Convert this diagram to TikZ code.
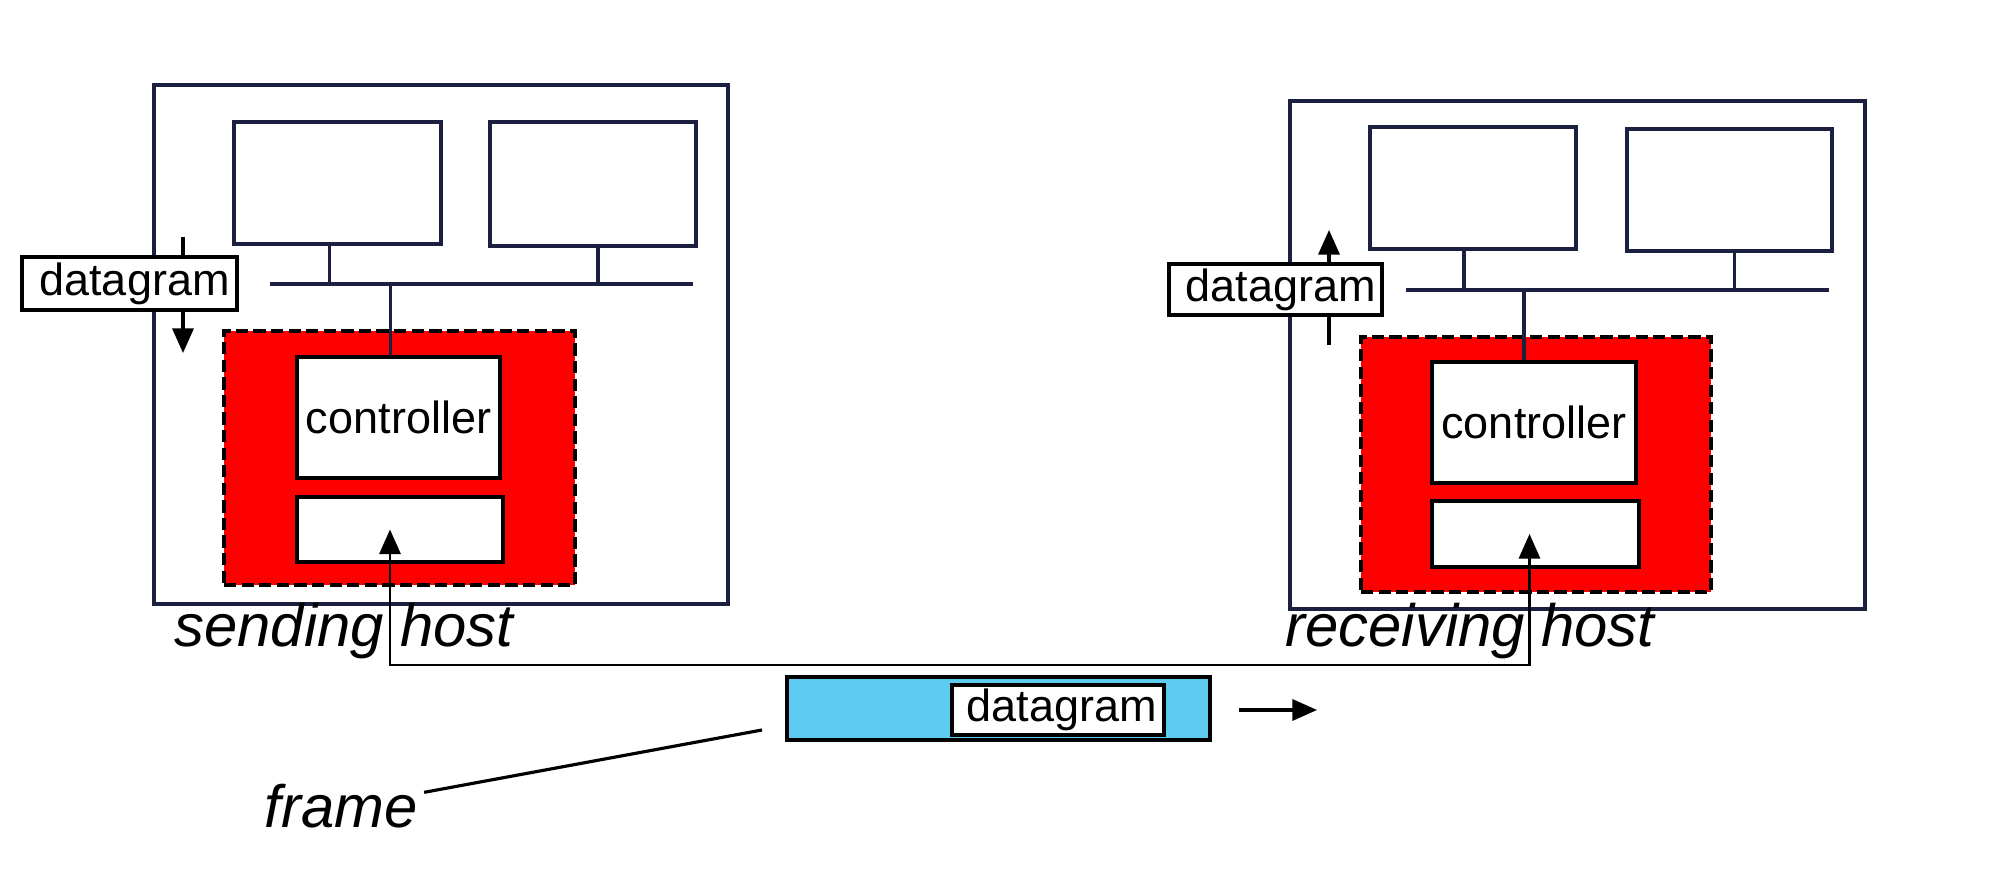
\documentclass[tikz,border=0pt]{standalone}
\usepackage{fontspec}
\setmainfont{Liberation Sans}
\usetikzlibrary{arrows.meta,fit}
\definecolor{hostnavy}{RGB}{28,32,64}
\definecolor{nicred}{RGB}{255,0,0}
\definecolor{frameblue}{RGB}{94,203,240}

\begin{document}
\begin{tikzpicture}[
  x=0.01cm,y=-0.01cm,
  hd/.tip={Triangle[length=7pt,width=6pt]},
  host/.style={draw=hostnavy,line width=1.1pt,inner sep=0pt},
  wire/.style={draw=hostnavy,line width=1pt},
  nic/.style={draw=black,dash pattern=on 3.5pt off 1.5pt,line width=0.9pt,fill=nicred,inner sep=0pt},
  hwbox/.style={draw=black,line width=1.2pt,fill=white,inner sep=0pt},
  lbl/.style={draw=black,line width=1pt,fill=white,inner sep=0pt},
  boxtext/.style={font=\fontsize{12.8}{15}\selectfont,inner sep=0pt},
  role/.style={font=\fontsize{17}{20}\selectfont\itshape,inner sep=0pt},
  arr/.style={-hd,line width=0.9pt}
]
\useasboundingbox (0,0) rectangle (2000,871);

% sending host
\node[host,fit={(154,85) (728,604)}] (hostS) {};
\node[host,fit={(234,122) (441,244)}] (monSL) {};
\node[host,fit={(490,122) (696,246)}] (monSR) {};
\coordinate (busSL) at (270,284);
\coordinate (busSR) at (693,284);
\draw[wire] (busSL) -- (busSR);
\draw[wire] ([xshift=-0.08cm]monSL.south) -- ([xshift=-0.08cm]monSL.south |- busSL);
\draw[wire] ([xshift=0.05cm]monSR.south) -- ([xshift=0.05cm]monSR.south |- busSL);
\node[nic,fit={(224,331) (575,585)}] (nicS) {};
\node[hwbox,fit={(297,357) (500,478)},label={[boxtext]center:controller}] (ctrlS) {};
\node[hwbox,fit={(297,497) (503,562)}] (portS) {};
\draw[wire] ([xshift=-0.08cm]ctrlS.north) -- ([xshift=-0.08cm]ctrlS.north |- busSL);
\coordinate (dgStop) at (183,237);
\coordinate (dgSbot) at (183,353);
\draw[arr] (dgStop) -- (dgSbot);
\node[lbl,fit={(22,257) (237,310)},label={[boxtext,xshift=0.05cm]center:datagram}] (dgS) {};
\node[role] (sendLbl) at (344,631) {sending host};

% receiving host
\node[host,fit={(1290,101) (1865,609)}] (hostR) {};
\node[host,fit={(1370,127) (1576,249)}] (monRL) {};
\node[host,fit={(1627,129) (1832,251)}] (monRR) {};
\coordinate (busRL) at (1406,290);
\coordinate (busRR) at (1829,290);
\draw[wire] (busRL) -- (busRR);
\draw[wire] ([xshift=-0.09cm]monRL.south) -- ([xshift=-0.09cm]monRL.south |- busRL);
\draw[wire] ([xshift=0.05cm]monRR.south) -- ([xshift=0.05cm]monRR.south |- busRL);
\node[nic,fit={(1361,337) (1711,592)}] (nicR) {};
\node[hwbox,fit={(1432,362) (1636,483)},label={[boxtext]center:controller}] (ctrlR) {};
\node[hwbox,fit={(1432,501) (1639,567)}] (portR) {};
\draw[wire] ([xshift=-0.1cm]ctrlR.north) -- ([xshift=-0.1cm]ctrlR.north |- busRL);
\coordinate (dgRbot) at (1329,345);
\coordinate (dgRtop) at (1329,230);
\draw[arr] (dgRbot) -- (dgRtop);
\node[lbl,fit={(1169,264) (1382,315)},label={[boxtext,xshift=0.05cm]center:datagram}] (dgR) {};
\node[role] (recvLbl) at (1470,631) {receiving host};

% link between the two adapters
\coordinate (linkY) at (0,665);
\draw[hd-hd,line width=0.8pt]
  ([xshift=-0.1cm]portS.center) -- ([xshift=-0.1cm]portS.center |- linkY)
  -- ([xshift=-0.06cm]portR.center |- linkY) -- ([xshift=-0.06cm]portR.center);

% frame on the link
\node[draw=black,line width=1.2pt,fill=frameblue,inner sep=0pt,fit={(787,677) (1210,740)}] (frm) {};
\node[lbl,fit={(952,685) (1164,735)},label={[boxtext,xshift=0.04cm]center:datagram}] (dgF) {};
\coordinate (fwdA) at (1239,710);
\coordinate (fwdB) at (1317,710);
\draw[arr] (fwdA) -- (fwdB);
\node[role] (frmLbl) at (341,806) {frame};
\coordinate (frmTip) at (762,730);
\draw[line width=0.9pt] ([shift={(6,9)}]frmLbl.north east) -- (frmTip);
\end{tikzpicture}
\end{document}
